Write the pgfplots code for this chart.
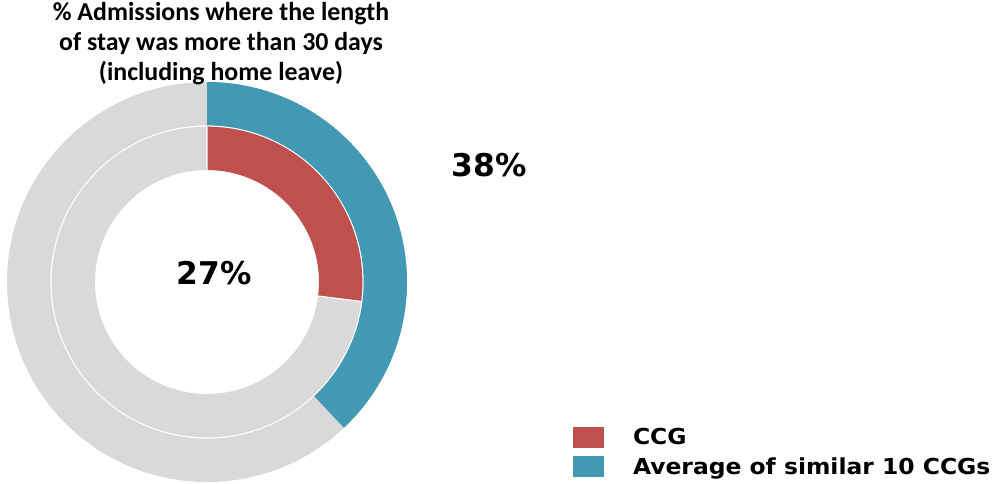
\documentclass[border=0pt]{standalone}
\usepackage{pgfplots}
\pgfplotsset{compat=1.18}
\usepackage{pgfplotstable}
\usepackage{graphicx}
\usepackage{fontspec}
\setmainfont{Carlito}
\newfontfamily\dv{DejaVu Sans}
\definecolor{ccgred}{HTML}{C0504D}
\definecolor{avgteal}{HTML}{4299B3}
\definecolor{ringgrey}{HTML}{D9D9D9}
\pgfplotstableread{
series value
CCG 27
Average 38
}\donutdata
\begin{document}
\begin{tikzpicture}
\pgfplotstablegetelem{0}{value}\of\donutdata \let\ccgval\pgfplotsretval
\pgfplotstablegetelem{1}{value}\of\donutdata \let\avgval\pgfplotsretval
\pgfmathsetmacro\ccgend{90-3.6*\ccgval}
\pgfmathsetmacro\avgend{90-3.6*\avgval}
\begin{axis}[
  scale only axis, width=746.25pt, height=362.25pt,
  xmin=0, xmax=995, ymin=0, ymax=483, y dir=reverse,
  hide axis, clip=false,
  legend style={at={(axis cs:573,427)}, anchor=north west, draw=none, fill=none,
    inner sep=0pt, outer sep=0pt, row sep=6.5pt,
    font=\dv\bfseries\fontsize{16.5}{18}\selectfont,
    nodes={inner sep=0pt}, cells={anchor=west}},
  legend image code/.code={\fill[#1] (0pt,-7.75pt) rectangle (23.25pt,7.75pt); \path (45pt,0pt);},
]
\addlegendimage{fill=ccgred, draw=none}
\addlegendentry{\scalebox{1.065}[1]{CCG}}
\addlegendimage{fill=avgteal, draw=none}
\addlegendentry{\scalebox{1.065}[1]{Average of similar 10 CCGs}}
\coordinate (bbtl) at (axis cs:0,0);
\coordinate (bbbr) at (axis cs:995,483);
% outer ring (average)
\fill[ringgrey, even odd rule, shift={(axis cs:207,282)}] (0,0) circle[radius=150pt] (0,0) circle[radius=117.5pt];
\fill[avgteal, shift={(axis cs:207,282)}] (90:150pt) arc[start angle=90, end angle=\avgend, radius=150pt] -- (\avgend:117.5pt) arc[start angle=\avgend, end angle=90, radius=117.5pt] -- cycle;
% inner ring (CCG)
\fill[ringgrey, even odd rule, shift={(axis cs:207,282)}] (0,0) circle[radius=116.5pt] (0,0) circle[radius=84pt];
\fill[ccgred, shift={(axis cs:207,282)}] (90:116.5pt) arc[start angle=90, end angle=\ccgend, radius=116.5pt] -- (\ccgend:84pt) arc[start angle=\ccgend, end angle=90, radius=84pt] -- cycle;
\draw[white, line width=0.9pt, shift={(axis cs:207,282)}] (90:84pt) -- (90:116.5pt) (\ccgend:84pt) -- (\ccgend:116.5pt);
% labels
\node[font=\dv\bfseries\fontsize{23.5}{24}\selectfont] at (axis cs:489,165) {38\%};
\node[font=\dv\bfseries\fontsize{23.5}{24}\selectfont] at (axis cs:214,273) {27\%};
% title
\node[font=\bfseries\fontsize{19.4}{22}\selectfont, anchor=base] at (axis cs:221,21) {\% Admissions where the length};
\node[font=\bfseries\fontsize{19.4}{22}\selectfont, anchor=base] at (axis cs:221,51) {of stay was more than 30 days};
\node[font=\bfseries\fontsize{19.4}{22}\selectfont, anchor=base] at (axis cs:221,81) {(including home leave)};
\end{axis}
\pgfresetboundingbox
\path[use as bounding box] (bbtl) rectangle (bbbr);
\end{tikzpicture}
\end{document}
